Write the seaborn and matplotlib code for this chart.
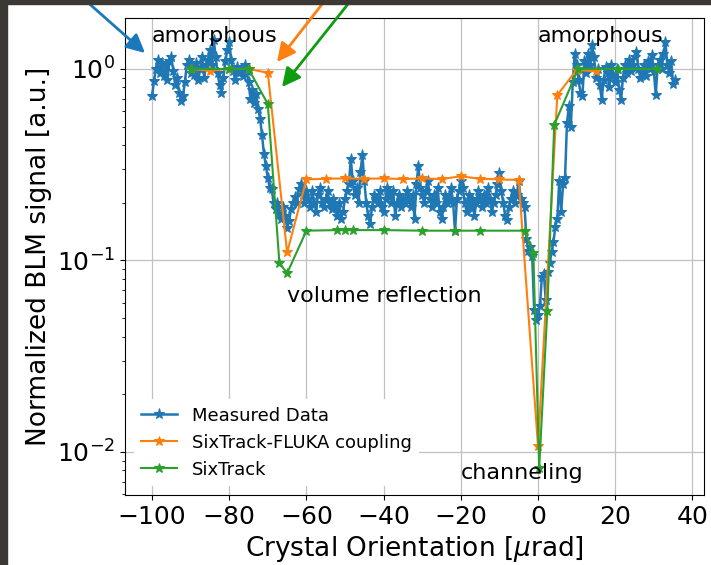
import numpy as np
import pandas as pd
import matplotlib
matplotlib.use("Agg")
import matplotlib.pyplot as plt
import seaborn as sns
from matplotlib.patches import Rectangle

# ---------------- data ----------------
# Measured data: scan from -100 to 35.5 urad, step 0.5 urad
meas_x_start = -100.0
meas_x_step = 0.5
meas_amorph_left = [0.72, 0.86, 1.0, 1.12, 0.95, 1.08, 0.92, 1.05, 0.88, 1.1,
                    1.15, 0.98, 0.82, 0.9, 0.75, 0.68, 0.72, 0.85, 1.05, 1.12,
                    0.95, 1.02, 0.93, 1.08, 0.88, 1.0, 1.15, 0.9, 1.05, 1.12,
                    1.25, 1.05, 1.42, 1.15, 0.95, 0.82, 0.75, 0.9, 1.1, 1.25,
                    1.38, 1.12, 0.98, 0.88, 1.02, 0.95, 1.0, 0.92, 1.05, 0.98,
                    0.85, 0.7, 0.78, 0.66, 0.74, 0.62]
meas_drop = [0.55, 0.45, 0.36, 0.31, 0.27, 0.24, 0.235, 0.2, 0.185, 0.2,
             0.175, 0.165, 0.19, 0.17, 0.148, 0.16, 0.185, 0.2, 0.215, 0.2,
             0.235, 0.25, 0.22, 0.2, 0.23]
meas_vr = [0.21, 0.19, 0.23, 0.2, 0.18, 0.22, 0.24, 0.2, 0.19, 0.21,
           0.23, 0.2, 0.185, 0.21, 0.19, 0.17, 0.2, 0.165, 0.18, 0.21,
           0.23, 0.25, 0.34, 0.26, 0.22, 0.24, 0.2, 0.29, 0.355, 0.26,
           0.2, 0.17, 0.155, 0.19, 0.22, 0.21, 0.2, 0.23, 0.19, 0.18,
           0.21, 0.24, 0.22, 0.2, 0.23, 0.17, 0.2, 0.22, 0.19, 0.21,
           0.2, 0.23, 0.21, 0.19, 0.22, 0.165, 0.25, 0.31, 0.24, 0.22,
           0.2, 0.23, 0.26, 0.21, 0.19, 0.22, 0.2, 0.24, 0.18, 0.165,
           0.19, 0.22, 0.2, 0.21, 0.24, 0.2, 0.142, 0.21, 0.23, 0.26,
           0.24, 0.2, 0.18, 0.22, 0.19, 0.21, 0.17, 0.2, 0.23, 0.21,
           0.19, 0.22, 0.2, 0.24, 0.21, 0.18, 0.2, 0.22, 0.25, 0.285,
           0.23, 0.2, 0.17, 0.163, 0.19, 0.21, 0.23, 0.2, 0.22, 0.26,
           0.21]
meas_ch = [0.2, 0.19, 0.13, 0.112, 0.118, 0.105, 0.055, 0.049, 0.052, 0.058,
           0.082, 0.085, 0.062, 0.087, 0.097, 0.11, 0.125, 0.15, 0.165, 0.26,
           0.18, 0.25, 0.27, 0.52, 0.64, 0.5, 0.85, 1.2]
meas_amorph_right = [1.05, 0.88, 0.75, 0.72, 1.1, 0.95, 1.2, 1.05, 1.33, 1.15,
                     0.9, 1.0, 0.82, 0.69, 0.88, 1.02, 0.95, 0.8, 1.05, 0.92,
                     0.85, 1.0, 0.78, 0.69, 0.9, 1.05, 0.95, 1.12, 0.98, 1.05,
                     1.15, 1.23, 1.0, 0.9, 0.95, 1.05, 0.92, 1.1, 1.0, 1.18,
                     0.98, 0.73, 1.05, 1.12, 1.0, 1.2, 1.39, 1.05, 0.95, 1.1,
                     0.83, 0.88]
meas_y = meas_amorph_left + meas_drop + meas_vr + meas_ch + meas_amorph_right
meas_x = meas_x_start + meas_x_step * np.arange(len(meas_y))

fluka_x = [-90, -85, -80, -75, -70, -65, -60, -55, -50, -45, -40, -35, -30,
           -25, -20, -15, -10, -5, 0, 5, 10, 15]
fluka_y = [1.0, 0.98, 1.0, 1.0, 0.955, 0.11, 0.265, 0.267, 0.268, 0.267, 0.268,
           0.266, 0.268, 0.266, 0.275, 0.267, 0.265, 0.263, 0.0107, 0.73, 0.99, 0.97]

six_x = [-90, -80, -75, -70, -67, -65, -60, -52, -50, -48, -40, -30, -21.5,
         -15, -3.5, -1.2, 0.3, 2.4, 4.2, 10.4, 20.8, 30.9]
six_y = [1.0, 1.0, 1.0, 0.656, 0.097, 0.0857, 0.143, 0.144, 0.144, 0.144,
         0.144, 0.143, 0.143, 0.143, 0.143, 0.109, 0.0082, 0.0545, 0.51, 1.0,
         1.0, 1.0]

labels = ["Measured Data", "SixTrack-FLUKA coupling", "SixTrack"]
colors = ["#1f77b4", "#ff7f0e", "#2ca02c"]

# ---------------- plot ----------------
W, H = 711, 565
fig = plt.figure(figsize=(W / 100, H / 100), dpi=100)
ax = fig.add_axes([125 / W, 1 - 495 / H, (704 - 125) / W, (495 - 18) / H])

for xs, ys, lab, c, lw, ms in zip([meas_x, fluka_x, six_x], [meas_y, fluka_y, six_y],
                                  labels, colors, [1.8, 1.5, 1.5], [8, 7, 7]):
    df = pd.DataFrame({"x": xs, "y": ys})
    sns.lineplot(data=df, x="x", y="y", ax=ax, color=c, marker="*", label=lab,
                 markeredgecolor=c, markersize=ms, linewidth=lw, sort=False)

ax.set_yscale("log")
ax.set_ylim(10 ** -2.225, 10 ** 0.266)
ax.set_xlim(-107, 43)
ax.grid(True, which="major", color="#c0c0c0", linewidth=0.9)
ax.set_xlabel(r"Crystal Orientation [$\mu$rad]", fontsize=19)
ax.set_ylabel("Normalized BLM signal [a.u.]", fontsize=19)
ax.tick_params(axis="both", which="major", labelsize=18)
ax.set_xticks([-100, -80, -60, -40, -20, 0, 20, 40])

ax.text(-100, 1.38, "amorphous", fontsize=16, ha="left", va="baseline")
ax.text(0, 1.38, "amorphous", fontsize=16, ha="left", va="baseline")
ax.text(-65, 0.061, "volume reflection", fontsize=16, ha="left", va="baseline")
ax.text(-20, 0.0072, "channeling", fontsize=16, ha="left", va="baseline")

leg = ax.legend(loc="lower left", fontsize=13, frameon=True, framealpha=1)
leg.get_frame().set_edgecolor("none")

# dark frame of the screenshot
fig.patches.append(Rectangle((0, 0), 7 / W, 1, transform=fig.transFigure,
                             color="#3c3834", zorder=10))
fig.patches.append(Rectangle((0, 1 - 4 / H), 1, 4 / H, transform=fig.transFigure,
                             color="#3c3834", zorder=10))

# arrows from above pointing to curves
def fp(px, py):
    return (px / W, 1 - py / H)

arrows = [((76, -8), (145, 53), "#1a78bd"),
          ((330, -6), (277, 62), "#ff8010"),
          ((356, -6), (282, 87), "#109c10")]
for (p0, p1, c) in arrows:
    ax.annotate("", xy=fp(*p1), xycoords="figure fraction",
                xytext=fp(*p0), textcoords="figure fraction",
                arrowprops=dict(arrowstyle="-|>", color=c, lw=2,
                                mutation_scale=28, shrinkA=0, shrinkB=0),
                annotation_clip=False)

fig.savefig("out.png", dpi=100)
